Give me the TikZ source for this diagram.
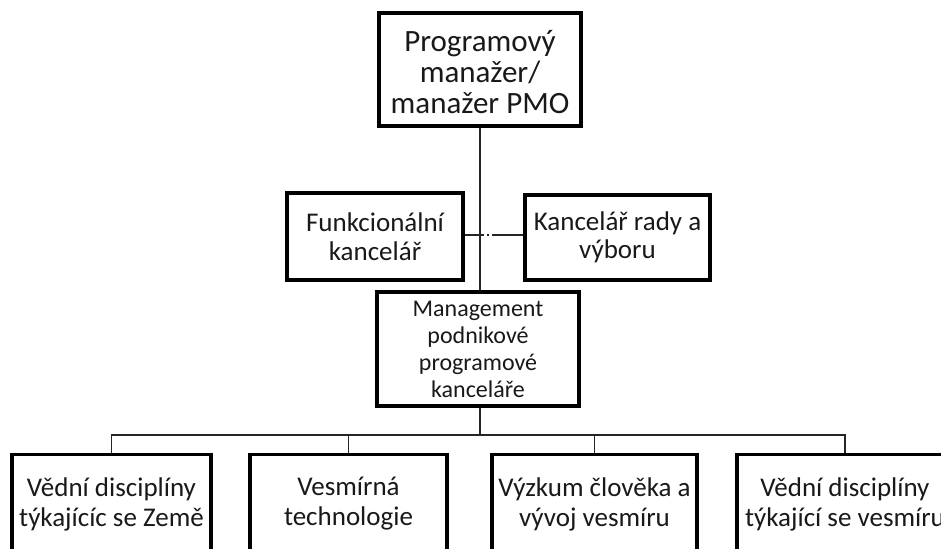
\documentclass[tikz,border=0pt]{standalone}
\usepackage{fontspec}
\setmainfont{Carlito}
\usetikzlibrary{shadows}
\begin{document}
\begin{tikzpicture}[x=1bp,y=-1bp,
  orgbox/.style={draw, line width=3.2bp, fill=white, inner sep=0pt, align=center,
    text=black!90,
    drop shadow={shadow xshift=1.5bp, shadow yshift=-1.5bp, fill=black, opacity=1}},
  boxtext/.style={inner sep=0pt, align=center, text=black!90},
  link/.style={line width=1.8bp, draw=black!85}]
\useasboundingbox (0,0) rectangle (941,549);
\clip (0,0) rectangle (941,549);

% top of the hierarchy
\node[orgbox, minimum width=202bp, minimum height=113bp] (pm) at (480,69.5) {};
\node[boxtext, font=\fontsize{31bp}{31bp}\selectfont] (pmtext) at (480,72)
  {Programový\\manažer/\\manažer PMO};

% staff offices beside the spine
\node[orgbox, minimum width=176bp, minimum height=87bp,
      font=\fontsize{27bp}{28.5bp}\selectfont] (func) at (375,236.5)
  {Funkcionální\\kancelář};
\node[orgbox, minimum width=185bp, minimum height=85bp,
      font=\fontsize{27bp}{28.5bp}\selectfont] (board) at (617.5,237.5)
  {Kancelář rady a\\výboru};

% enterprise programme office
\node[orgbox, minimum width=202bp, minimum height=114bp,
      font=\fontsize{24bp}{27bp}\selectfont] (epmo) at (478,349)
  {Management\\podnikové\\programové\\kanceláře};

% divisions (boxes run past the lower edge)
\node[orgbox, minimum width=199bp, minimum height=120bp, anchor=north] (d1) at (111.5,453) {};
\node[orgbox, minimum width=197bp, minimum height=120bp, anchor=north] (d2) at (348.5,453) {};
\node[orgbox, minimum width=205bp, minimum height=120bp, anchor=north] (d3) at (594.5,453) {};
\node[orgbox, minimum width=216bp, minimum height=120bp, anchor=north] (d4) at (845,453) {};

\begin{scope}[every node/.style={boxtext, font=\fontsize{27bp}{30bp}\selectfont}]
\node (t1) at (111.5,504) {Vědní disciplíny\\týkajícíc se Země};
\node (t2) at (348.5,504) {Vesmírná\\technologie};
\node (t3) at (594.5,504) {Výzkum člověka a\\vývoj vesmíru};
\node (t4) at (845,504) {Vědní disciplíny\\týkající se vesmíru};
\end{scope}

% connectors
\coordinate (j) at (480,235);
\coordinate (bus) at (480,435);
\draw[link] (pm.south) -- (j) -- (epmo.north -| j);
\draw[link] (func.east |- j) -- (j);
\draw[link, dash pattern=on 31bp off 3bp on 2bp off 3bp on 20bp] (board.west |- j) -- (j);
\draw[link] (epmo.south -| j) -- (bus);
\draw[link] (d1.north) |- (bus);
\draw[link] (d4.north) |- (bus);
\draw[link] (d2.north) -- (d2.north |- bus);
\draw[link] (d3.north) -- (d3.north |- bus);
\end{tikzpicture}
\end{document}
